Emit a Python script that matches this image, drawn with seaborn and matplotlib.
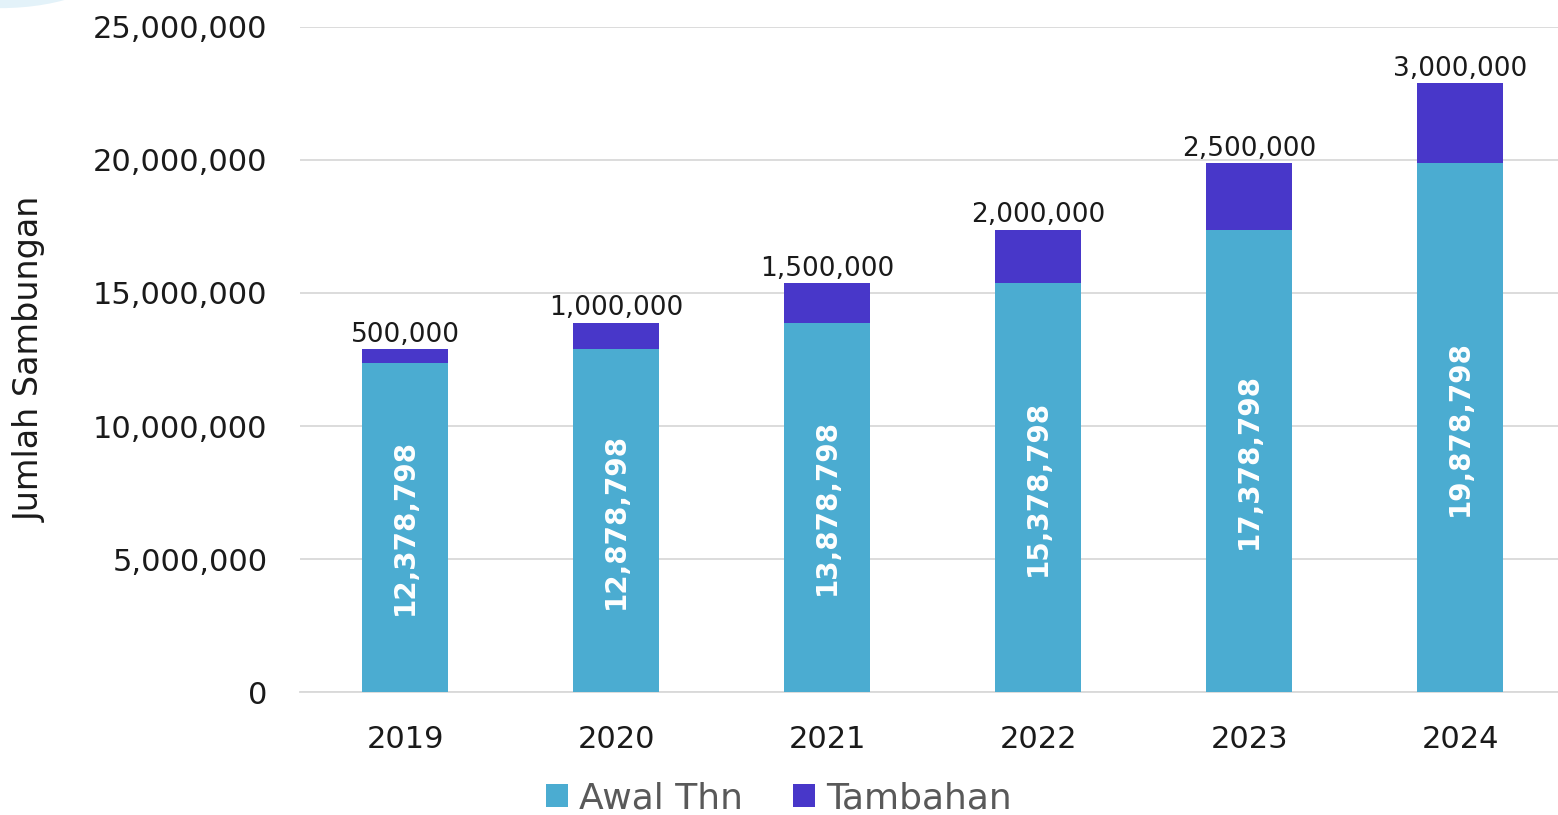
import pandas as pd
import seaborn as sns
import matplotlib.pyplot as plt
from matplotlib.patches import Ellipse

# data
tahun = ['2019', '2020', '2021', '2022', '2023', '2024']
awal_thn = [12378798, 12878798, 13878798, 15378798, 17378798, 19878798]
tambahan = [500000, 1000000, 1500000, 2000000, 2500000, 3000000]
y_ticks = [0, 5000000, 10000000, 15000000, 20000000, 25000000]

df = pd.DataFrame({'tahun': tahun, 'awal': awal_thn, 'tambahan': tambahan})

sns.set_theme(style='white')
plt.rcParams['font.family'] = ['DejaVu Sans']

c_awal = '#4BACD1'
c_tambah = '#4837C9'

fig = plt.figure(figsize=(15.58, 8.15), dpi=100)
ax = fig.add_axes([0.1923, 0.1509, 0.8126, 0.816])

# decorative arc in the top-left corner
fig.patches.append(Ellipse((0.0, 1.05), 0.15, 0.12, transform=fig.transFigure,
                           facecolor='#e3f2f9', edgecolor='none', zorder=0))

sns.barplot(data=df, x='tahun', y='awal', color=c_awal, width=0.405,
            saturation=1, ax=ax, label='Awal Thn', linewidth=0, zorder=3)
sns.barplot(data=df, x='tahun', y='tambahan', bottom=df['awal'], color=c_tambah,
            width=0.405, saturation=1, ax=ax, label='Tambahan', linewidth=0, zorder=3)

ax.bar_label(ax.containers[0], labels=[f'{v:,}' for v in awal_thn],
             label_type='center', rotation=90, color='white',
             fontsize=20, fontweight='bold')
ax.bar_label(ax.containers[1], labels=[f'{v:,}' for v in tambahan],
             padding=1, color='#1a1a1a', fontsize=19)

ax.set_ylim(0, 25000000)
ax.set_xlim(-0.5, 5.5)
ax.set_yticks(y_ticks)
ax.set_yticklabels([f'{v:,}' for v in y_ticks])
ax.yaxis.grid(True, color='#d9d9d9', linewidth=1.3, zorder=0)
ax.set_axisbelow(True)
for s in ['left', 'right', 'top']:
    ax.spines[s].set_visible(False)
ax.spines['bottom'].set_color('#d9d9d9')
ax.spines['bottom'].set_linewidth(1.3)

ax.tick_params(axis='y', labelsize=22, colors='#1a1a1a', length=0, pad=23)
ax.tick_params(axis='x', labelsize=22, colors='#1a1a1a', length=0, pad=24)
ax.set_xlabel('')
ax.set_ylabel('Jumlah Sambungan', fontsize=24, color='#1a1a1a')
ax.yaxis.set_label_coords(-0.2, 0.5)

ax.legend(loc='lower center', bbox_to_anchor=(0.5, -0.04), bbox_transform=fig.transFigure,
          ncol=2, frameon=False, fontsize=26, labelcolor='#595959',
          handlelength=0.6, handleheight=0.6, handletextpad=0.3, columnspacing=1.4)

fig.savefig('out.png', dpi=100)
